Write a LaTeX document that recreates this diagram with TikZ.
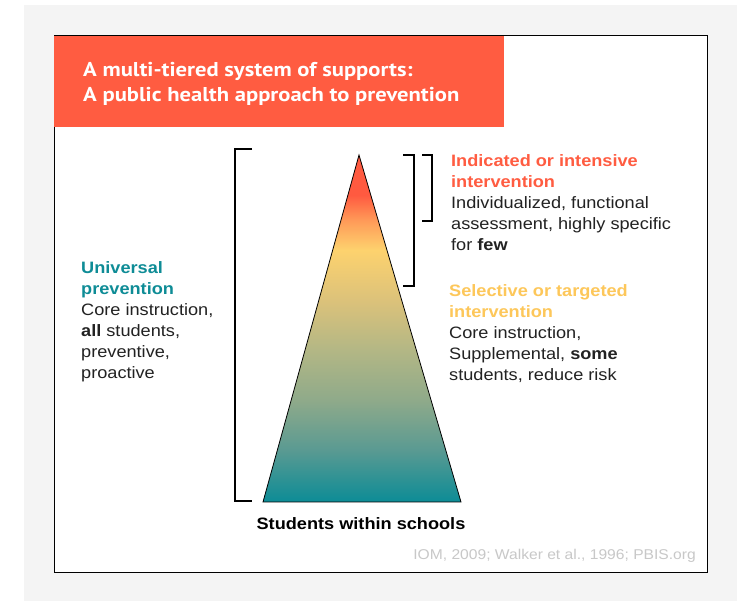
\documentclass[tikz,border=0pt]{standalone}
\usepackage{fontspec}
\setmainfont[FakeStretch=1.1]{Liberation Sans}
\newfontfamily\titlefont[FakeStretch=1.13]{PT Sans}
\definecolor{bggray}{HTML}{F4F4F4}
\definecolor{banner}{HTML}{FF5C41}
\definecolor{tealc}{HTML}{0E8C96}
\definecolor{sunc}{HTML}{FDC75A}
\definecolor{citegray}{HTML}{C8C8C8}
\definecolor{textc}{HTML}{222222}
\definecolor{pyrA}{HTML}{0C8C96}
\definecolor{pyrB}{HTML}{5A9A92}
\definecolor{pyrC}{HTML}{8FAA8A}
\definecolor{pyrD}{HTML}{B3B785}
\definecolor{pyrE}{HTML}{DCC27A}
\definecolor{pyrF}{HTML}{FDD26E}
\definecolor{pyrG}{HTML}{FF9A58}
\definecolor{pyrH}{HTML}{FF5A40}
% colour bands of the pyramid, base at 25bp, apex at 75bp
\pgfdeclareverticalshading{tiers}{100bp}{color(0bp)=(pyrA); color(25bp)=(pyrA);
  color(32.5bp)=(pyrB); color(39.7bp)=(pyrC); color(46.9bp)=(pyrD);
  color(54.1bp)=(pyrE); color(61.3bp)=(pyrF); color(65.6bp)=(pyrG);
  color(69.2bp)=(pyrH); color(100bp)=(pyrH)}
\begin{document}
\begin{tikzpicture}[x=1pt,y=-1pt,
	txt/.style={anchor=base west, align=left, inner sep=0pt, text=textc,
		font=\fontsize{16.5}{21}\selectfont},
	brk/.style={line width=2pt}]
	\useasboundingbox (0,0) rectangle (737,601);
	\fill[bggray] (24,5) rectangle (737,601);
	\draw[fill=white, line width=1pt] (54,36) rectangle (707,573);
	\fill[banner] (54,36) rectangle (504,127);
	% base anchor of a multi-line node is the last line
	\node[anchor=base west, align=left, inner sep=0pt, text=white,
		font=\titlefont\bfseries\fontsize{20}{25}\selectfont] (title) at (83,102)
		{A multi-tiered system of supports:\\A public health approach to prevention};
	% pyramid
	\coordinate (apex) at (359,155);
	\coordinate (bl) at (263,502);
	\coordinate (br) at (461,502);
	\draw[shading=tiers, line width=0.8pt] (apex) -- (br) -- (bl) -- cycle;
	\node[anchor=base, inner sep=0pt, font=\bfseries\fontsize{16.5}{18}\selectfont] (base) at (361,530)
		{Students within schools};
	% brackets
	\draw[brk] (252,149) -- (235,149) -- (235,501) -- (252,501);
	\draw[brk] (403,155) -- (414,155) -- (414,286) -- (403,286);
	\draw[brk] (422,155) -- (432,155) -- (432,221) -- (422,221);
	% tier texts
	\node[txt] (univ) at (81,379)
		{\textcolor{tealc}{\bfseries Universal}\\\textcolor{tealc}{\bfseries prevention}\\
		Core instruction,\\\textbf{all} students,\\preventive,\\proactive};
	\node[txt] (indic) at (451,251)
		{\textcolor{banner}{\bfseries Indicated or intensive}\\\textcolor{banner}{\bfseries intervention}\\
		Individualized, functional\\assessment, highly specific\\for \textbf{few}};
	\node[txt] (select) at (449,381)
		{\textcolor{sunc}{\bfseries Selective or targeted}\\\textcolor{sunc}{\bfseries intervention}\\
		Core instruction,\\Supplemental, \textbf{some}\\students, reduce risk};
	\node[anchor=base east, inner sep=0pt, text=citegray, font=\fontsize{14.2}{16}\selectfont] (cite)
		at (696,560) {IOM, 2009; Walker et al., 1996; PBIS.org};
\end{tikzpicture}
\end{document}
